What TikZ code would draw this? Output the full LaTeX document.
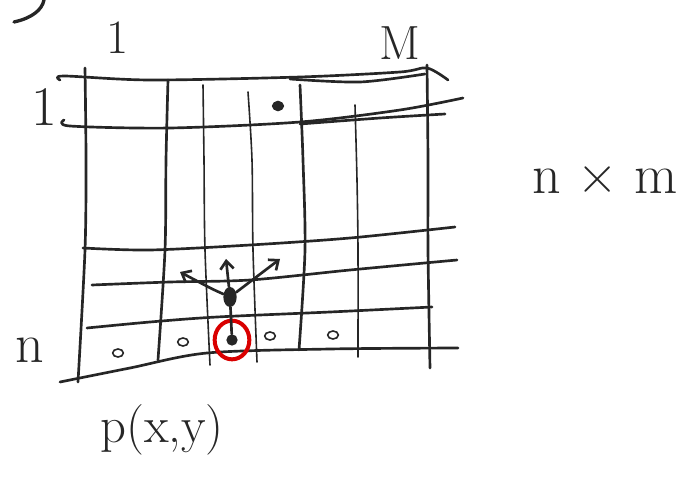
\documentclass[tikz,border=0pt]{standalone}
\usetikzlibrary{arrows.meta}
\tikzset{
  ink/.style={line width=2pt, line cap=round, line join=round, black!85},
  thinink/.style={line width=1.2pt, line cap=round, line join=round, black!85},
  lbl/.style={inner sep=0pt, black!85, font=\fontsize{36}{38}\selectfont},
  biglbl/.style={inner sep=0pt, black!85, font=\fontsize{42}{44}\selectfont},
  cellmark/.style={draw=black!85, line width=1.2pt, ellipse, inner sep=0pt, minimum width=8pt, minimum height=6pt}
}
\usetikzlibrary{shapes.geometric}
\begin{document}
\begin{tikzpicture}[x=0.75pt,y=-0.75pt]
\useasboundingbox (0,0) rectangle (686,481);
% bracket piece top left
\draw[ink, line width=2.5pt] (14,22) .. controls (32,18) and (42,10) .. (44,0);
% rows
\draw[ink] plot[smooth] coordinates {(60,80) (64,76) (150,80) (300,77) (400,72) (427,68) (448,80)};
\draw[ink] plot[smooth] coordinates {(290,79) (360,82) (425,74)};
\draw[ink] plot[smooth] coordinates {(64,120) (70,126) (170,128) (300,122) (400,110) (463,98)};
\draw[ink] plot[smooth] coordinates {(300,124) (380,118) (445,114)};
\draw[ink] plot[smooth] coordinates {(83,248) (150,250) (250,245) (350,238) (455,227)};
\draw[ink] plot[smooth] coordinates {(92,285) (170,282) (250,280) (350,270) (457,260)};
\draw[ink] plot[smooth] coordinates {(87,328) (150,322) (217,317) (330,312) (432,307)};
\draw[ink] plot[smooth] coordinates {(60,382) (130,368) (207,353) (330,349) (458,348)};
% columns
\draw[ink] plot[smooth] coordinates {(85,68) (86,160) (85,250) (78,382)};
\draw[ink] plot[smooth] coordinates {(168,80) (166,160) (165,250) (158,360)};
\draw[thinink] plot[smooth] coordinates {(203,85) (204,160) (205,250) (210,365)};
\draw[thinink] plot[smooth] coordinates {(248,92) (252,160) (253,250) (257,362)};
\draw[ink] plot[smooth] coordinates {(300,85) (303,160) (305,250) (299,350)};
\draw[thinink] plot[smooth] coordinates {(355,105) (357,180) (358,250) (358,357)};
\draw[ink] plot[smooth] coordinates {(427,65) (428,160) (428,250) (430,368)};
% labels
\node[lbl] (colone) at (118,38) {1};
\node[lbl] (colM) at (400,43) {M};
\node[biglbl] (rowone) at (44,107) {1};
\node[biglbl] (rown) at (30,350) {n};
\node[biglbl] (size) at (605,180) {n × m};
\node[biglbl, font=\fontsize{38}{40}\selectfont] (pxy) at (162,430) {p(x,y)};
% cell marks
\node[cellmark] (topdot) at (278,106) {};
\fill[black!85] (topdot) circle (4pt);
\node[cellmark] (c1) at (118,353) {};
\node[cellmark] (c2) at (183,342) {};
\node[cellmark] (c4) at (270,336) {};
\node[cellmark] (c5) at (333,335) {};
\node[circle, fill=black!85, inner sep=3pt] (target) at (232,340) {};
\draw[red!85!black, line width=3pt] (target) ellipse (13pt and 14.5pt);
% agent and moves
\node[ellipse, fill=black!85, minimum width=10pt, minimum height=15pt, inner sep=0pt] (agent) at (230,297) {};
\coordinate (left) at (180,272);
\coordinate (up) at (226,259);
\coordinate (right) at (280,259);
\draw[ink] (agent) -- (target);
\draw[ink, -{Straight Barb[length=6pt,width=10pt]}] (agent) .. controls (212,289) .. (left);
\draw[ink, -{Straight Barb[length=6pt,width=10pt]}] (agent) -- (up);
\draw[ink, -{Straight Barb[length=6pt,width=10pt]}] (agent) -- (right);
\end{tikzpicture}
\end{document}
